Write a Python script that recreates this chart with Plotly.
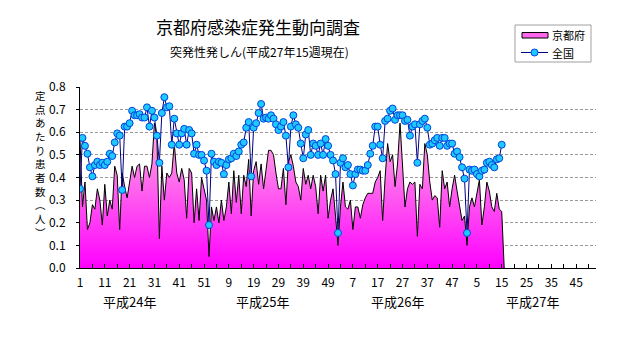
import plotly.graph_objects as go

# ---- data ----
years = ["平成24年", "平成25年", "平成26年", "平成27年"]
weeks_per_year = [52, 52, 52, 53]
x_tick_labels = ["1", "11", "21", "31", "41", "51", "9", "19", "29", "39", "49",
                 "7", "17", "27", "37", "47", "5", "15", "25", "35", "45"]

zenkoku = [
    0.35, 0.575, 0.54, 0.505, 0.445, 0.405, 0.455, 0.47, 0.455, 0.465,
    0.455, 0.47, 0.505, 0.495, 0.555, 0.595, 0.585, 0.345, 0.625, 0.625,
    0.64, 0.695, 0.675, 0.675, 0.68, 0.665, 0.665, 0.71, 0.625, 0.695,
    0.665, 0.585, 0.465, 0.685, 0.755, 0.71, 0.715, 0.545, 0.66, 0.595,
    0.545, 0.595, 0.615, 0.545, 0.61, 0.595, 0.505, 0.545, 0.5, 0.5,
    0.475, 0.43, 0.19, 0.505, 0.47, 0.455, 0.47, 0.465, 0.415, 0.455,
    0.48, 0.485, 0.505, 0.495, 0.515, 0.545, 0.555, 0.62, 0.645, 0.405,
    0.62, 0.64, 0.685, 0.725, 0.66, 0.665, 0.66, 0.675, 0.66, 0.635,
    0.61, 0.625, 0.645, 0.585, 0.445, 0.625, 0.675, 0.635, 0.62, 0.55,
    0.485, 0.59, 0.61, 0.5, 0.55, 0.54, 0.5, 0.55, 0.5, 0.57,
    0.54, 0.5, 0.475, 0.415, 0.155, 0.465, 0.485, 0.445, 0.455, 0.415,
    0.365, 0.415, 0.435, 0.435, 0.43, 0.43, 0.455, 0.505, 0.54, 0.625,
    0.625, 0.545, 0.485, 0.65, 0.66, 0.695, 0.705, 0.655, 0.675, 0.675,
    0.675, 0.65, 0.655, 0.585, 0.625, 0.635, 0.465, 0.635, 0.65, 0.66,
    0.62, 0.545, 0.55, 0.565, 0.575, 0.54, 0.575, 0.575, 0.54, 0.55,
    0.55, 0.505, 0.515, 0.49, 0.445, 0.395, 0.155, 0.435, 0.43, 0.435,
    0.415, 0.405, 0.43, 0.435, 0.465, 0.47, 0.455, 0.445, 0.48, 0.485,
    0.545,
]

kyoto = [
    0.57, 0.27, 0.38, 0.17, 0.2, 0.28, 0.26, 0.35, 0.3, 0.19,
    0.37, 0.23, 0.3, 0.26, 0.45, 0.41, 0.17, 0.42, 0.36, 0.31,
    0.38, 0.45, 0.4, 0.45, 0.46, 0.34, 0.45, 0.45, 0.4, 0.46,
    0.64, 0.58, 0.13, 0.45, 0.3, 0.42, 0.4, 0.42, 0.55, 0.42,
    0.38, 0.44, 0.39, 0.22, 0.44, 0.42, 0.2, 0.35, 0.21, 0.4,
    0.35, 0.3, 0.05, 0.27, 0.21, 0.27, 0.2, 0.3, 0.21, 0.27,
    0.38, 0.24, 0.43, 0.29, 0.41, 0.24, 0.41, 0.36, 0.48, 0.23,
    0.43, 0.47, 0.37, 0.46, 0.35, 0.44, 0.52, 0.52, 0.5, 0.42,
    0.35, 0.35, 0.44, 0.28, 0.47, 0.5, 0.45, 0.38, 0.36, 0.3,
    0.44, 0.37, 0.41, 0.35, 0.41, 0.36, 0.24, 0.41, 0.34, 0.41,
    0.22, 0.3, 0.35, 0.23, 0.1, 0.27, 0.38, 0.27, 0.26, 0.3,
    0.17, 0.27, 0.27, 0.22, 0.28, 0.31, 0.33, 0.33, 0.33, 0.38,
    0.4, 0.43, 0.21, 0.4, 0.55, 0.47, 0.5, 0.36, 0.46, 0.64,
    0.44, 0.27, 0.35, 0.38, 0.37, 0.38, 0.14, 0.37, 0.35, 0.55,
    0.5, 0.38, 0.3, 0.32, 0.31, 0.18, 0.43, 0.35, 0.38, 0.27,
    0.35, 0.41, 0.34, 0.27, 0.21, 0.23, 0.1, 0.27, 0.31, 0.27,
    0.33, 0.39, 0.19, 0.27, 0.38, 0.34, 0.27, 0.25, 0.33, 0.26,
    0.25,
]

series_names = ["京都府", "全国"]
title_text = "京都府感染症発生動向調査"
subtitle_text = "突発性発しん(平成27年15週現在)"
y_title_chars = ["定", "点", "あ", "た", "り", "患", "者", "数", "︵", "人", "︶"]

# ---- layout geometry (pixels) ----
W, H = 631, 347
L, R, T, B = 80, 35, 87, 79
PW, PH = W - L - R, H - T - B


def px_x(px):
    return (px - L) / PW


def px_y(py):
    return (H - B - py) / PH


JP = "Noto Sans CJK JP"
PINK_TOP, PINK_BOTTOM = "#FFB8E0", "#FF00FF"
NAVY, CYAN, MARKER_EDGE = "#000080", "#1FC8FF", "#0044DD"

n_cat = sum(weeks_per_year)
x_all = list(range(n_cat))
x_data = x_all[:len(zenkoku)]
# Excel plots blank cells of an area series as zero -> the area drops to 0
kyoto_plot = kyoto + [0]
x_kyoto = x_all[:len(kyoto_plot)]

fig = go.Figure()
fig.add_trace(go.Scatter(
    x=x_kyoto, y=kyoto_plot, mode="lines", name=series_names[0],
    line=dict(color="black", width=1),
    fill="tozeroy",
    fillgradient=dict(type="vertical",
                      colorscale=[[0, PINK_BOTTOM], [1, PINK_TOP]],
                      start=0, stop=0.65),
    showlegend=False,
))
fig.add_trace(go.Scatter(
    x=x_data, y=zenkoku, mode="lines+markers", name=series_names[1],
    line=dict(color=NAVY, width=1),
    marker=dict(size=7, color=CYAN, line=dict(color=MARKER_EDGE, width=1)),
    showlegend=False,
))

annotations = [
    dict(text=title_text, x=px_x(258), y=px_y(26), xref="paper", yref="paper",
         showarrow=False, xanchor="center", yanchor="middle",
         font=dict(family=JP, size=17, color="black")),
    dict(text=subtitle_text, x=px_x(259), y=px_y(51), xref="paper", yref="paper",
         showarrow=False, xanchor="center", yanchor="middle",
         font=dict(family=JP, size=12, color="black")),
    dict(text="<br>".join(y_title_chars), x=px_x(40), y=px_y(86),
         xref="paper", yref="paper", showarrow=False,
         xanchor="center", yanchor="top", align="center",
         font=dict(family=JP, size=10.5, color="black")),
]
year_centers = [129, 262, 397, 532]
for yr, cx in zip(years, year_centers):
    annotations.append(dict(text=yr, x=px_x(cx), y=px_y(301), xref="paper", yref="paper",
                            showarrow=False, xanchor="center", yanchor="middle",
                            font=dict(family=JP, size=13, color="black")))

# ---- hand-drawn legend box (Excel style) ----
shapes = [
    dict(type="rect", xref="paper", yref="paper",
         x0=px_x(515), x1=px_x(591), y0=px_y(25), y1=px_y(62),
         line=dict(color="#A0A0A0", width=1), fillcolor="white", layer="above"),
    dict(type="rect", xref="paper", yref="paper",
         x0=px_x(522), x1=px_x(548), y0=px_y(32.5), y1=px_y(38),
         line=dict(color="black", width=1), fillcolor="#FF66EE", layer="above"),
    dict(type="line", xref="paper", yref="paper",
         x0=px_x(521), x1=px_x(548), y0=px_y(52.5), y1=px_y(52.5),
         line=dict(color=NAVY, width=1), layer="above"),
    dict(type="circle", xref="paper", yref="paper",
         x0=px_x(531), x1=px_x(538), y0=px_y(49), y1=px_y(56),
         line=dict(color=MARKER_EDGE, width=1), fillcolor=CYAN, layer="above"),
]
for name, cy in zip(series_names, [35, 52.5]):
    annotations.append(dict(text=name, x=px_x(550), y=px_y(cy), xref="paper", yref="paper",
                            showarrow=False, xanchor="left", yanchor="middle",
                            font=dict(family=JP, size=11, color="black")))

fig.update_layout(
    width=W, height=H,
    margin=dict(l=L, r=R, t=T, b=B, pad=0),
    paper_bgcolor="white", plot_bgcolor="white",
    showlegend=False,
    annotations=annotations,
    shapes=shapes,
    xaxis=dict(
        range=[0, n_cat - 1], showgrid=False, zeroline=False,
        showline=True, linecolor="black", linewidth=1,
        tickmode="array", tickvals=x_all[::10], ticktext=x_tick_labels,
        ticks="inside", ticklen=4, tickcolor="black",
        minor=dict(dtick=5, ticks="inside", ticklen=4, tickcolor="black", showgrid=False),
        tickfont=dict(family="Liberation Sans Narrow, " + JP, size=12, color="black"),
        ticklabelstandoff=4, automargin=False, fixedrange=True,
    ),
    yaxis=dict(
        range=[0, 0.8], dtick=0.1, tickformat=".1f",
        showgrid=True, gridcolor="#9A9A9A", griddash="3px,2px", gridwidth=1,
        zeroline=False, showline=True, linecolor="black", linewidth=1,
        ticks="outside", ticklen=3, tickcolor="black",
        tickfont=dict(family="Liberation Sans Narrow, " + JP, size=12, color="black"),
        ticklabelstandoff=8, automargin=False, fixedrange=True,
    ),
)

fig.write_html("out.html")
